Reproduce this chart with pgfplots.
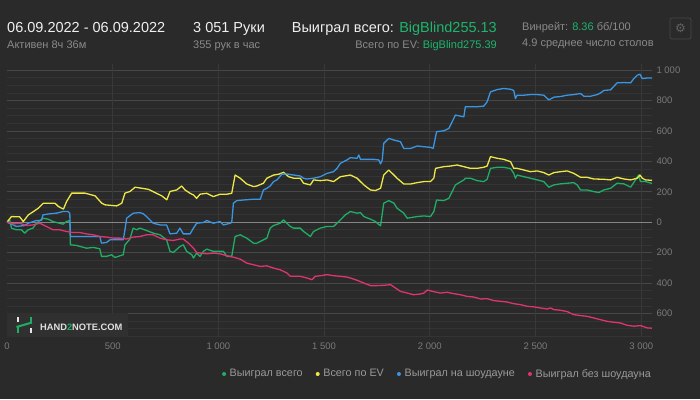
\documentclass[border=0pt]{standalone}
\usepackage{pgfplots}
\pgfplotsset{compat=1.18}
\usepackage{fontspec}
\setmainfont{Liberation Sans}
\newfontfamily\dejavu{DejaVu Sans}
\definecolor{bg}{HTML}{2A2A2A}
\definecolor{gridmaj}{HTML}{474747}
\definecolor{gridmin}{HTML}{343434}
\definecolor{vgrid}{HTML}{383838}
\definecolor{zeroc}{HTML}{858585}
\definecolor{tickc}{HTML}{7A7A7A}
\definecolor{legc}{HTML}{9A9A9A}
\definecolor{hwhite}{HTML}{F0F0F0}
\definecolor{hgray}{HTML}{8A8A8A}
\definecolor{hgreen}{HTML}{1DB56C}
\definecolor{cgreen}{HTML}{1EAE66}
\definecolor{cyellow}{HTML}{EEE845}
\definecolor{cblue}{HTML}{3A95E2}
\definecolor{cpink}{HTML}{DF3470}
\definecolor{wmbox}{HTML}{303030}

\pgfplotstableread{
h v
0 0
13 15
21 -39
44 -50
68 -50
84 -72
100 -50
123 -39
139 -7
170 26
194 20
218 4
265 -13
281 4
297 11
300 -149
329 -153
376 -171
408 -166
439 -175
447 -225
471 -225
495 -214
510 -232
526 -225
550 -214
558 -149
581 -112
597 -39
613 -50
629 -39
660 -55
692 -72
724 -83
755 -116
771 -192
787 -199
818 -160
834 -149
850 -192
874 -214
882 -236
897 -203
913 -225
929 -192
945 -177
976 -192
1008 -192
1024 -192
1040 -225
1063 -225
1079 -94
1103 -83
1134 -105
1166 -138
1182 -138
1213 -116
1229 -105
1245 -39
1261 -22
1292 -7
1308 15
1324 -7
1340 -28
1356 -39
1387 -39
1403 -61
1435 -94
1450 -61
1482 -39
1514 -28
1545 -28
1577 15
1600 48
1624 70
1656 59
1672 63
1688 37
1719 20
1743 4
1751 -7
1767 -24
1782 125
1806 142
1830 125
1845 92
1877 59
1893 26
1940 37
1972 41
2003 37
2019 70
2032 146
2066 142
2090 157
2121 245
2161 278
2168 289
2192 289
2224 273
2255 267
2271 282
2287 354
2319 361
2350 361
2382 352
2397 321
2405 289
2413 310
2445 299
2476 289
2508 278
2539 267
2563 230
2587 245
2618 252
2650 256
2681 260
2697 245
2713 212
2744 212
2776 201
2800 195
2823 212
2855 223
2886 256
2918 252
2950 230
2973 278
2988 310
2996 267
3020 267
3051 255
}\greentab

\pgfplotstableread{
h v
0 0
21 37
60 35
77 4
101 48
125 70
148 92
172 125
227 125
243 103
267 86
282 136
306 191
369 191
417 173
448 125
464 114
519 107
543 125
558 191
582 202
606 230
669 216
732 173
756 147
771 202
803 212
826 238
842 212
866 190
882 179
897 157
913 184
945 190
976 168
1008 184
1040 184
1063 190
1079 310
1103 289
1134 251
1166 234
1182 238
1213 256
1229 289
1261 310
1285 315
1308 328
1332 299
1356 289
1387 289
1403 256
1435 245
1450 278
1482 273
1514 278
1545 267
1577 299
1624 310
1656 289
1688 245
1719 212
1743 208
1767 223
1782 310
1806 343
1830 310
1845 289
1877 251
1909 251
1940 260
1972 267
2003 267
2019 289
2027 354
2066 365
2098 369
2129 376
2161 365
2192 354
2224 354
2255 361
2271 369
2287 431
2319 420
2350 413
2382 398
2397 354
2413 354
2445 343
2476 332
2508 337
2539 326
2563 310
2587 326
2618 332
2650 337
2681 321
2713 295
2744 295
2776 284
2823 282
2855 278
2886 295
2918 284
2950 278
2981 289
2994 310
3005 289
3020 278
3051 275
}\yellowtab

\pgfplotstableread{
h v
0 0
21 -13
44 -28
84 -22
100 -7
139 11
163 11
170 48
202 55
233 59
265 70
289 70
297 59
300 -94
329 -94
376 -94
439 -94
447 -138
471 -133
487 -116
518 -116
550 -116
558 -50
566 26
597 59
629 63
645 55
660 37
692 -7
724 -18
755 -18
771 -77
803 -72
818 -39
834 -77
866 -77
882 -39
897 -7
929 -2
945 11
976 -7
1008 4
1024 -18
1056 -7
1063 -2
1071 125
1087 142
1119 146
1166 151
1198 151
1213 212
1229 223
1245 238
1261 267
1277 278
1300 315
1324 317
1356 310
1387 304
1403 289
1419 284
1450 289
1482 299
1514 321
1545 332
1561 354
1577 387
1608 409
1624 424
1656 420
1664 442
1672 413
1703 413
1735 413
1759 409
1767 383
1775 409
1782 518
1806 551
1830 540
1861 529
1877 485
1909 485
1924 492
1940 501
1972 496
2003 492
2016 485
2032 595
2066 601
2090 616
2121 704
2161 693
2168 759
2192 759
2224 759
2255 763
2271 791
2287 857
2319 872
2350 879
2382 874
2397 866
2405 813
2413 835
2445 835
2476 839
2508 839
2539 835
2563 804
2587 822
2618 826
2650 835
2681 839
2713 846
2729 828
2760 828
2792 839
2808 850
2823 866
2855 870
2886 916
2918 918
2950 916
2965 944
2981 966
2994 973
3005 944
3028 948
3051 948
}\bluetab

\pgfplotstableread{
h v
0 0
28 -11
60 -7
92 -22
123 -18
155 -7
186 -28
218 -50
249 -50
281 -61
313 -68
344 -68
376 -77
408 -83
439 -94
471 -98
503 -105
534 -105
566 -111
597 -98
629 -94
660 -83
692 -83
724 -105
755 -116
787 -120
818 -111
834 -111
858 -138
882 -171
897 -199
913 -203
945 -208
976 -203
1008 -208
1040 -221
1071 -230
1103 -243
1134 -269
1166 -280
1198 -291
1229 -287
1261 -302
1292 -313
1324 -334
1340 -356
1387 -356
1419 -367
1443 -378
1458 -356
1482 -352
1514 -345
1545 -352
1577 -356
1608 -361
1624 -367
1656 -382
1688 -400
1719 -417
1751 -417
1782 -415
1814 -411
1838 -433
1861 -455
1893 -466
1924 -477
1956 -472
1972 -466
1988 -446
2019 -457
2050 -466
2082 -461
2113 -470
2145 -477
2176 -488
2208 -492
2240 -505
2271 -503
2303 -516
2334 -520
2366 -525
2397 -536
2429 -542
2460 -553
2492 -557
2523 -564
2555 -571
2571 -564
2587 -575
2618 -579
2650 -588
2681 -608
2713 -614
2744 -619
2776 -630
2807 -641
2839 -652
2870 -658
2902 -663
2934 -678
2965 -684
2997 -680
3028 -695
3051 -697
}\pinktab

\begin{document}
\begin{tikzpicture}
\fill[bg] (0pt,0pt) rectangle (700pt,-399pt);

% header
\node[anchor=base west, inner sep=0pt, text=hwhite, font=\fontsize{14.5}{16}\selectfont] at (7pt,-32.5pt) {06.09.2022 - 06.09.2022};
\node[anchor=base west, inner sep=0pt, text=hgray, font=\fontsize{11}{13}\selectfont] at (7pt,-48pt) {Активен 8ч 36м};
\node[anchor=base west, inner sep=0pt, text=hwhite, font=\fontsize{14.5}{16}\selectfont] at (193pt,-32.5pt) {3 051 Руки};
\node[anchor=base west, inner sep=0pt, text=hgray, font=\fontsize{11}{13}\selectfont] at (193pt,-48pt) {355 рук в час};
\node[anchor=base east, inner sep=0pt, text=hwhite, font=\fontsize{14.5}{16}\selectfont] at (497pt,-32.5pt) {Выиграл всего: \textcolor{hgreen}{BigBlind255.13}};
\node[anchor=base east, inner sep=0pt, text=hgray, font=\fontsize{11}{13}\selectfont] at (497pt,-48.5pt) {Всего по EV: \textcolor{hgreen}{BigBlind275.39}};
\node[anchor=base west, inner sep=0pt, text=hgray, font=\fontsize{11}{13}\selectfont] at (522pt,-30.5pt) {Винрейт: \textcolor{hgreen}{8.36} бб/100};
\node[anchor=base west, inner sep=0pt, text=hgray, font=\fontsize{11}{13}\selectfont] at (522pt,-46.5pt) {4.9 среднее число столов};
\draw[color=gridmaj, line width=0.7pt, rounded corners=2pt] (670pt,-18pt) rectangle (691pt,-39pt);
\node[text=tickc!80!black, font=\dejavu\fontsize{12}{12}\selectfont, inner sep=0pt] at (680.5pt,-28.5pt) {⚙};

\begin{axis}[
  at={(7pt,-337pt)}, anchor=south west,
  width=645pt, height=273pt, scale only axis,
  xmin=0, xmax=3051, ymin=-755, ymax=1040,
  axis line style={draw=none},
  major tick length=0pt, minor tick length=0pt,
  xtick={0,500,1000,1500,2000,2500,3000},
  xticklabels={0,500,1 000,1 500,2 000,2 500,3 000},
  ytick={-600,-400,-200,0,200,400,600,800,1000},
  yticklabels={600,400,200,0,200,400,600,800,1 000},
  minor ytick={-750,-700,...,1000},
  ymajorgrids, yminorgrids,
  major grid style={color=gridmaj, line width=0.8pt},
  minor grid style={color=gridmin, line width=0.6pt},
  yticklabel pos=right,
  tick label style={font=\fontsize{9.5}{10}\selectfont, text=tickc},
  xticklabel style={yshift=-2pt},
  yticklabel style={xshift=1pt},
  legend style={at={(1,0)}, anchor=east, yshift=-37pt, xshift=4pt, draw=none, fill=none,
    legend columns=4, font=\fontsize{10.8}{12}\selectfont, text=legc,
    /tikz/every even column/.append style={column sep=11pt}},
  legend cell align=left,
  legend image code/.code={\fill[#1, draw=none] (0pt,0pt) circle (2pt); \path (3pt,0pt);},
  every axis plot/.append style={line width=1.3pt, line join=round},
]
\pgfplotsinvokeforeach{500,1000,1500,2000,2500,3000}{
  \draw[color=vgrid, line width=0.7pt] (axis cs:#1,-755) -- (axis cs:#1,1040);
}
\draw[color=zeroc, line width=1.1pt] (axis cs:0,0) -- (axis cs:3051,0);
\addplot[color=cgreen] table[x=h,y=v] {\greentab};
\addlegendentry{Выиграл всего}
\addplot[color=cyellow] table[x=h,y=v] {\yellowtab};
\addlegendentry{Всего по EV}
\addplot[color=cblue] table[x=h,y=v] {\bluetab};
\addlegendentry{Выиграл на шоудауне}
\addplot[color=cpink] table[x=h,y=v] {\pinktab};
\addlegendentry{Выиграл без шоудауна}
\end{axis}

% watermark
\fill[wmbox] (7pt,-313pt) rectangle (128pt,-337pt);
\fill[white!90!black] (16.5pt,-316.5pt) rectangle (18.5pt,-322pt);
\fill[white!90!black] (30pt,-327.5pt) rectangle (32pt,-333pt);
\fill[cgreen] (30pt,-316.5pt) rectangle (32pt,-322.5pt);
\fill[cgreen] (16.5pt,-327pt) rectangle (18.5pt,-333pt);
\draw[cgreen, line width=2pt] (16.5pt,-327pt) -- (32pt,-322.5pt);
\node[anchor=west, inner sep=0pt, text=white!88!black, font=\bfseries\fontsize{9.3}{10}\selectfont] at (40pt,-327.5pt) {HAND\textcolor{cgreen}{2}NOTE.COM};
\end{tikzpicture}
\end{document}
